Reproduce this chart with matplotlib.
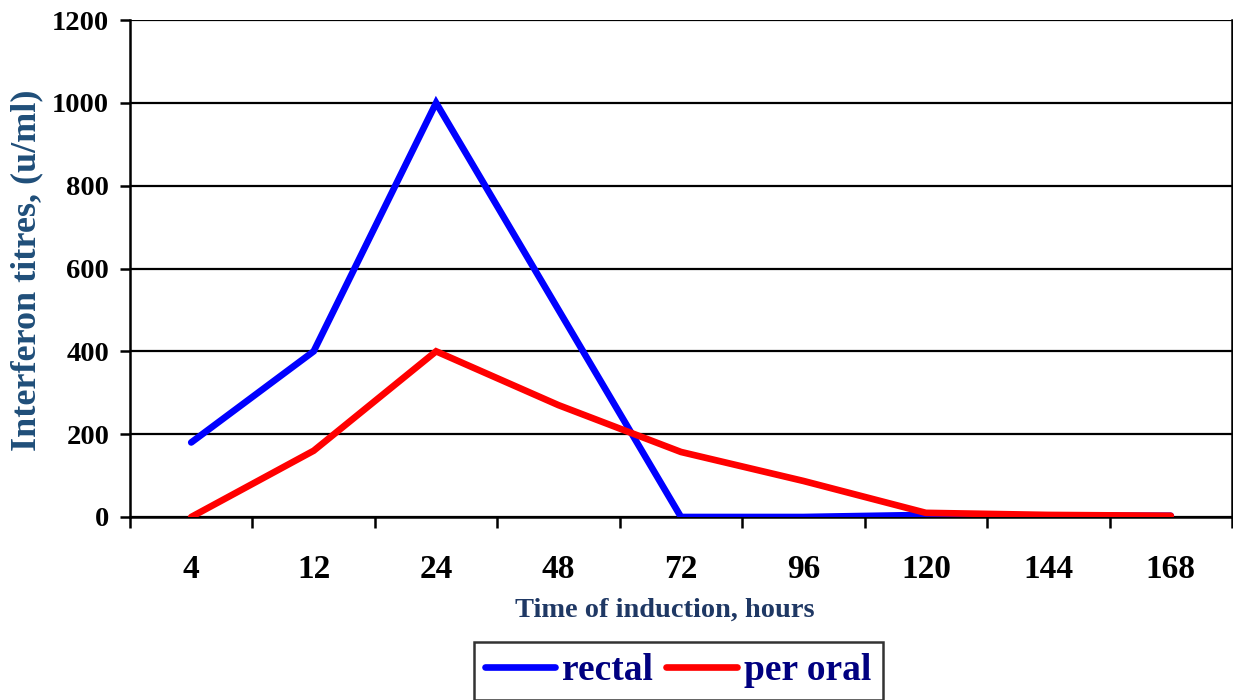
import matplotlib.pyplot as plt
import numpy as np

hours = ['4', '12', '24', '48', '72', '96', '120', '144', '168']
rectal = [180, 400, 1000, 500, 0, 0, 5, 3, 3]
per_oral = [0, 160, 400, 270, 157, 87, 10, 5, 3]

plt.rcParams['font.family'] = ['Liberation Serif', 'DejaVu Serif']
plt.rcParams['font.weight'] = 'bold'

fig = plt.figure(figsize=(12.33, 7), dpi=100)
ax = fig.add_axes([130 / 1233, 1 - 517 / 700, 1102 / 1233, 497 / 700])

x = np.arange(len(hours))
ax.plot(x, rectal, color='#0000ff', lw=4.8, solid_capstyle='round', solid_joinstyle='miter', label='rectal', zorder=3)
ax.plot(x, per_oral, color='#ff0000', lw=4.8, solid_capstyle='round', solid_joinstyle='miter', label='per oral', zorder=4)

ax.set_xlim(-0.5, len(hours) - 0.5)
ax.set_ylim(0, 1200)
ax.set_yticks(range(0, 1201, 200))
ax.yaxis.grid(True, color='black', lw=1.6)
ax.set_axisbelow(True)

ax.set_xticks(x)
ax.set_xticklabels(hours, fontsize=24, fontweight='bold')
ax.set_xticks(np.arange(-0.5, len(hours)), minor=True)
ax.tick_params(axis='x', which='major', length=0, pad=27)
ax.tick_params(axis='x', which='minor', length=8, width=1.8, direction='out')
ax.tick_params(axis='y', length=7, width=1.8, direction='out', pad=8, labelsize=20.5)
for t in ax.get_yticklabels():
    t.set_fontweight('bold')

for s in ['left', 'bottom', 'right']:
    ax.spines[s].set_linewidth(1.8)
ax.spines['top'].set_visible(False)

# axis titles
fig.text(27 / 1233, 1 - 270 / 700, 'Interferon titres, (u/ml)', rotation=90, ha='center', va='center',
         fontsize=26, fontweight='bold', color='#1f4e79')
fig.text(665 / 1233, 1 - 610 / 700, 'Time of induction, hours', ha='center', va='center',
         fontsize=20.4, fontweight='bold', color='#1f3864')

leg = fig.legend(loc='upper center', bbox_to_anchor=(678 / 1233, 1 - 642 / 700), ncol=2,
                 frameon=True, fancybox=False, edgecolor='black', handlelength=1.87,
                 columnspacing=0.35, handletextpad=0.2, borderpad=0.3, borderaxespad=0,
                 prop={'size': 27, 'weight': 'bold'})
leg.get_frame().set_linewidth(1.8)
for t in leg.get_texts():
    t.set_color('#000080')

fig.savefig('out.png', dpi=100)
